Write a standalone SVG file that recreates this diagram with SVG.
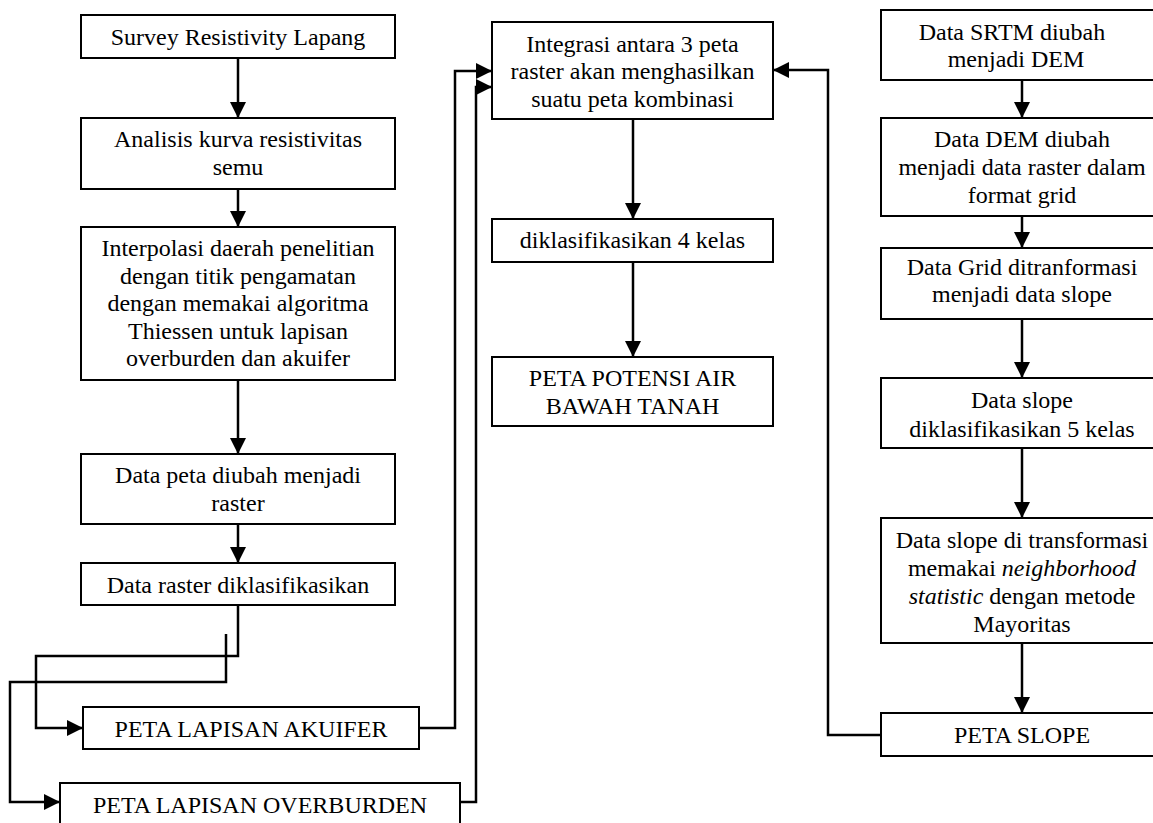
<svg xmlns="http://www.w3.org/2000/svg" width="1153" height="823" viewBox="0 0 1153 823">
<style>
.box{fill:#fff;stroke:#000;stroke-width:2}
.t{font-family:"Liberation Serif","Times New Roman",serif;font-size:24px;fill:#000;text-anchor:middle}
.c{fill:none;stroke:#000;stroke-width:2.5}
</style>
<defs>
<marker id="ah" markerUnits="userSpaceOnUse" markerWidth="16" markerHeight="16" viewBox="0 0 15 15" refX="15" refY="7.5" orient="auto">
<path d="M0,0 L15,7.5 L0,15 z" fill="#000"/>
</marker>
</defs>
<rect width="1153" height="823" fill="#fff"/>
<g id="connectors">
<path class="c" d="M238,58 V118" marker-end="url(#ah)"/>
<path class="c" d="M238,189 V227" marker-end="url(#ah)"/>
<path class="c" d="M238,380 V454" marker-end="url(#ah)"/>
<path class="c" d="M238,524 V563" marker-end="url(#ah)"/>
<path class="c" d="M238,605 V656 H36 V728 H83" marker-end="url(#ah)"/>
<path class="c" d="M226,634 V682 H10 V802 H60" marker-end="url(#ah)"/>
<path class="c" d="M419,728 H455 V71 H492" marker-end="url(#ah)"/>
<path class="c" d="M460,802 H476 V87 H492" marker-end="url(#ah)"/>
<path class="c" d="M633,119 V219" marker-end="url(#ah)"/>
<path class="c" d="M633,262 V357" marker-end="url(#ah)"/>
<path class="c" d="M881,735 H828 V70 H773" marker-end="url(#ah)"/>
<path class="c" d="M1022,80 V118" marker-end="url(#ah)"/>
<path class="c" d="M1022,216 V248" marker-end="url(#ah)"/>
<path class="c" d="M1022,319 V378" marker-end="url(#ah)"/>
<path class="c" d="M1022,448 V518" marker-end="url(#ah)"/>
<path class="c" d="M1022,643 V713" marker-end="url(#ah)"/>
</g>
<g id="n1"><rect class="box" x="81" y="15" width="314" height="43"/><text class="t" x="238" y="45">Survey Resistivity Lapang</text></g>
<g id="n2"><rect class="box" x="81" y="118" width="314" height="71"/><text class="t" x="238" y="147">Analisis kurva resistivitas</text><text class="t" x="238" y="175">semu</text></g>
<g id="n3"><rect class="box" x="81" y="227" width="314" height="153"/>
<text class="t" x="238" y="256">Interpolasi daerah penelitian</text>
<text class="t" x="238" y="283.5">dengan titik pengamatan</text>
<text class="t" x="238" y="311">dengan memakai algoritma</text>
<text class="t" x="238" y="338.5">Thiessen untuk lapisan</text>
<text class="t" x="238" y="366">overburden dan akuifer</text></g>
<g id="n4"><rect class="box" x="81" y="454" width="314" height="70"/><text class="t" x="238" y="483">Data peta diubah menjadi</text><text class="t" x="238" y="510.5">raster</text></g>
<g id="n5"><rect class="box" x="81" y="563" width="314" height="42"/><text class="t" x="238" y="592.5">Data raster diklasifikasikan</text></g>
<g id="n6"><rect class="box" x="83" y="707" width="336" height="42"/><text class="t" x="251" y="736.5">PETA LAPISAN AKUIFER</text></g>
<g id="n7"><rect class="box" x="60" y="783" width="400" height="45"/><text class="t" x="260" y="812.5">PETA LAPISAN OVERBURDEN</text></g>
<g id="n8"><rect class="box" x="492" y="22" width="281" height="97"/>
<text class="t" x="632.5" y="52">Integrasi antara 3 peta</text>
<text class="t" x="632.5" y="79">raster akan menghasilkan</text>
<text class="t" x="632.5" y="106.5">suatu peta kombinasi</text></g>
<g id="n9"><rect class="box" x="492" y="219" width="281" height="43"/><text class="t" x="632.5" y="248">diklasifikasikan 4 kelas</text></g>
<g id="n10"><rect class="box" x="492" y="357" width="281" height="69"/><text class="t" x="632.5" y="386">PETA POTENSI AIR</text><text class="t" x="632.5" y="413.5">BAWAH TANAH</text></g>
<g id="r1"><rect class="box" x="881" y="10" width="290" height="70"/><text class="t" x="1012" y="39.5">Data SRTM diubah</text><text class="t" x="1016" y="67">menjadi DEM</text></g>
<g id="r2"><rect class="box" x="881" y="118" width="290" height="98"/>
<text class="t" x="1022" y="147">Data DEM diubah</text>
<text class="t" x="1022" y="175">menjadi data raster dalam</text>
<text class="t" x="1022" y="203">format grid</text></g>
<g id="r3"><rect class="box" x="881" y="248" width="290" height="71"/><text class="t" x="1022" y="274.5">Data Grid ditranformasi</text><text class="t" x="1022" y="302">menjadi data slope</text></g>
<g id="r4"><rect class="box" x="881" y="378" width="290" height="70"/><text class="t" x="1022" y="408">Data slope</text><text class="t" x="1022" y="436.5">diklasifikasikan 5 kelas</text></g>
<g id="r5"><rect class="box" x="881" y="518" width="290" height="125"/>
<text class="t" x="1022" y="548">Data slope di transformasi</text>
<text class="t" x="1022" y="576">memakai <tspan font-style="italic">neighborhood</tspan></text>
<text class="t" x="1022" y="604"><tspan font-style="italic">statistic</tspan> dengan metode</text>
<text class="t" x="1022" y="631.5">Mayoritas</text></g>
<g id="r6"><rect class="box" x="881" y="713" width="290" height="43"/><text class="t" x="1022" y="742.5">PETA SLOPE</text></g>
</svg>
